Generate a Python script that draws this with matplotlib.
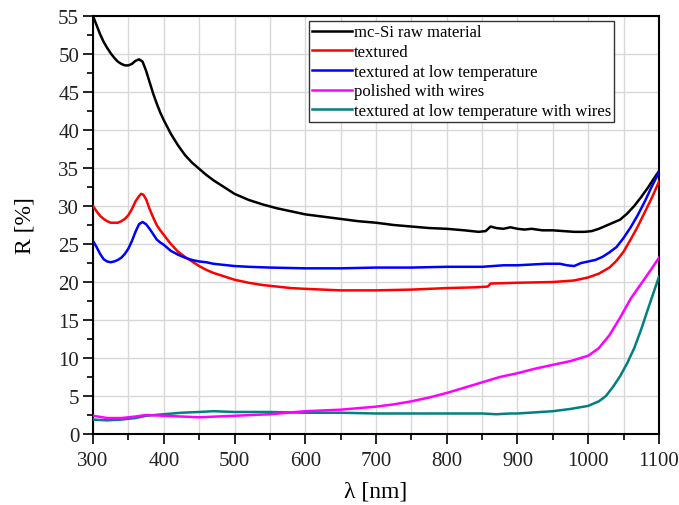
import numpy as np
import matplotlib
matplotlib.use('Agg')
import matplotlib.pyplot as plt
from matplotlib.ticker import MultipleLocator

plt.rcParams['font.family'] = ['Liberation Serif', 'DejaVu Serif']

# reflectance spectra, wavelength in nm / R in %
wl_raw = [300, 305, 310, 315, 320, 325, 330, 335, 340, 345, 350, 355, 360, 365, 370, 375, 380, 385, 390, 395,
          400, 410, 420, 430, 440, 450, 460, 470, 480, 490, 500, 520, 540, 560, 580, 600, 625, 650, 675, 700,
          725, 750, 775, 800, 825, 845, 855, 862, 870, 880, 890, 900, 910, 920, 935, 950, 965, 980, 995, 1005,
          1015, 1025, 1035, 1045, 1055, 1065, 1075, 1085, 1092, 1100]
r_raw = [55.0, 53.8, 52.6, 51.6, 50.8, 50.1, 49.5, 49.0, 48.7, 48.5, 48.5, 48.7, 49.1, 49.3, 49.0, 47.8, 46.3, 44.8, 43.5, 42.3,
         41.3, 39.5, 38.0, 36.7, 35.7, 34.9, 34.1, 33.4, 32.8, 32.2, 31.6, 30.8, 30.2, 29.7, 29.3, 28.9, 28.6, 28.3, 28.0, 27.8,
         27.5, 27.3, 27.1, 27.0, 26.8, 26.6, 26.7, 27.3, 27.1, 27.0, 27.2, 27.0, 26.9, 27.0, 26.8, 26.8, 26.7, 26.6, 26.6, 26.7,
         27.0, 27.4, 27.8, 28.2, 29.0, 30.0, 31.2, 32.5, 33.5, 34.6]

wl_tex = [300, 305, 310, 315, 320, 325, 330, 335, 340, 345, 350, 355, 360, 365, 368, 371, 375, 380, 385, 390, 395,
          400, 410, 420, 430, 440, 450, 460, 470, 480, 490, 500, 520, 540, 560, 580, 600, 625, 650, 700, 750,
          800, 840, 858, 862, 900, 950, 980, 1000, 1015, 1030, 1040, 1050, 1060, 1070, 1080, 1090, 1100]
r_tex = [30.0, 29.3, 28.7, 28.3, 28.0, 27.8, 27.8, 27.8, 28.0, 28.3, 28.8, 29.6, 30.6, 31.3, 31.6, 31.5, 30.9, 29.6, 28.5, 27.5, 26.8,
         26.2, 25.0, 24.0, 23.3, 22.7, 22.1, 21.6, 21.2, 20.9, 20.6, 20.3, 19.9, 19.6, 19.4, 19.2, 19.1, 19.0, 18.9, 18.9, 19.0,
         19.2, 19.3, 19.4, 19.8, 19.9, 20.0, 20.2, 20.6, 21.1, 21.9, 22.8, 24.0, 25.6, 27.3, 29.2, 31.1, 33.2]

wl_low = [300, 305, 310, 315, 320, 325, 330, 335, 340, 345, 350, 355, 360, 365, 370, 375, 380, 385, 390, 395,
          400, 410, 420, 430, 440, 450, 460, 470, 480, 500, 520, 550, 600, 650, 700, 750, 800, 850, 880, 900,
          920, 940, 960, 970, 980, 990, 1000, 1010, 1020, 1030, 1040, 1050, 1060, 1070, 1080, 1090, 1100]
r_low = [25.4, 24.6, 23.7, 23.0, 22.7, 22.6, 22.7, 22.9, 23.2, 23.7, 24.4, 25.4, 26.6, 27.6, 27.9, 27.6, 27.0, 26.3, 25.6, 25.2,
         24.9, 24.1, 23.6, 23.2, 22.9, 22.7, 22.6, 22.4, 22.3, 22.1, 22.0, 21.9, 21.8, 21.8, 21.9, 21.9, 22.0, 22.0, 22.2, 22.2,
         22.3, 22.4, 22.4, 22.2, 22.1, 22.5, 22.7, 22.9, 23.3, 23.9, 24.6, 25.8, 27.2, 28.8, 30.6, 32.6, 34.4]

wl_pol = [300, 320, 340, 360, 375, 400, 425, 450, 475, 500, 525, 550, 575, 600, 625, 650, 675, 700, 725, 750,
          775, 800, 825, 850, 875, 900, 925, 950, 975, 1000, 1015, 1030, 1045, 1060, 1075, 1090, 1100]
r_pol = [2.4, 2.1, 2.1, 2.3, 2.5, 2.4, 2.3, 2.2, 2.3, 2.4, 2.5, 2.6, 2.8, 3.0, 3.1, 3.2, 3.4, 3.6, 3.9, 4.3,
         4.8, 5.4, 6.1, 6.8, 7.5, 8.0, 8.6, 9.1, 9.6, 10.3, 11.3, 13.0, 15.3, 17.8, 19.8, 21.8, 23.2]

wl_wire = [300, 320, 340, 360, 375, 400, 425, 450, 470, 500, 550, 600, 650, 700, 750, 800, 850, 870, 890, 900,
           950, 975, 1000, 1015, 1025, 1035, 1045, 1055, 1065, 1075, 1085, 1100]
r_wire = [1.9, 1.8, 1.9, 2.1, 2.4, 2.6, 2.8, 2.9, 3.0, 2.9, 2.9, 2.8, 2.8, 2.7, 2.7, 2.7, 2.7, 2.6, 2.7, 2.7,
          3.0, 3.3, 3.7, 4.3, 5.0, 6.2, 7.6, 9.3, 11.3, 13.8, 16.6, 20.7]

labels = ['mc-Si raw material', 'textured', 'textured at low temperature',
          'polished with wires', 'textured at low temperature with wires']
colors = ['#000000', '#ff0000', '#0000ff', '#ff00ff', '#008080']

fig = plt.figure(figsize=(6.79, 5.06), dpi=100)
ax = fig.add_axes([0.137, 0.1403, 0.8335, 0.8261])

series = [(wl_raw, r_raw), (wl_tex, r_tex), (wl_low, r_low), (wl_pol, r_pol), (wl_wire, r_wire)]
zo = [3, 3, 3, 4, 3]
for (x, y), lab, c, z in zip(series, labels, colors, zo):
    ax.plot(x, y, color=c, lw=1.8, label=lab, zorder=z)

ax.set_xlim(300, 1100)
ax.set_ylim(0, 55)
ax.xaxis.set_major_locator(MultipleLocator(100))
ax.xaxis.set_minor_locator(MultipleLocator(50))
ax.yaxis.set_major_locator(MultipleLocator(5))
ax.yaxis.set_minor_locator(MultipleLocator(2.5))

ax.grid(True, which='major', color='#d8d8d8', lw=1.0, zorder=0)
ax.grid(True, which='minor', axis='x', color='#d8d8d8', lw=1.0, zorder=0)
ax.set_axisbelow(True)

ax.tick_params(which='major', direction='out', length=7, width=1.2, labelsize=15, colors='black')
ax.tick_params(which='minor', direction='out', length=4, width=1.2)
ax.tick_params(axis='x', pad=5)
ax.tick_params(axis='y', pad=3)
for lbl in ax.get_xticklabels() + ax.get_yticklabels():
    lbl.set_color('#222222')
for s in ax.spines.values():
    s.set_linewidth(1.5)
    s.set_color('black')

ax.set_xlabel('λ [nm]', fontsize=17, labelpad=8)
ax.set_ylabel('R [%]', fontsize=17, labelpad=16)

leg = ax.legend(loc='upper left', bbox_to_anchor=(0.381, 0.988), fontsize=12, frameon=True, fancybox=False,
                edgecolor='#333333', framealpha=1, borderpad=0.2, labelspacing=0.22, handlelength=2.4,
                handletextpad=0.1, borderaxespad=0)
leg.get_frame().set_linewidth(1.0)

fig.savefig('out.png', dpi=100)
